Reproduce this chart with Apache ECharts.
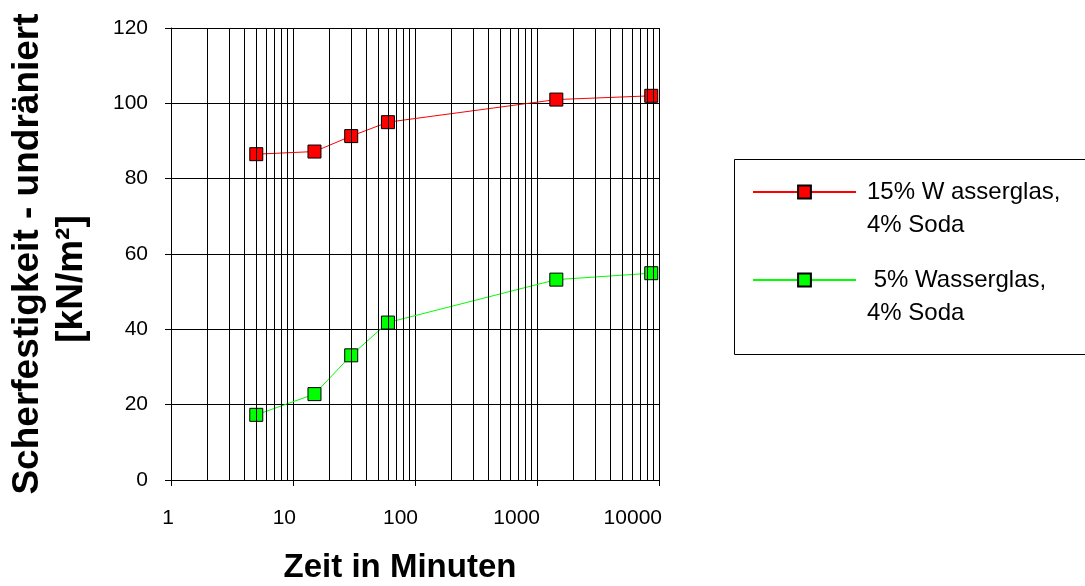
<!DOCTYPE html>
<html>
<head>
<meta charset="utf-8">
<script src="https://cdn.jsdelivr.net/npm/echarts@6/dist/echarts.min.js"></script>
<style>
html,body{margin:0;padding:0;background:#fff;}
#chart{width:1085px;height:586px;}
</style>
</head>
<body>
<div id="chart"></div>
<script>
// ---- data ----
const timeMinutes = [5, 15, 30, 60, 1440, 8640];
const series15Name = '15% Wasserglas';
const series15Values = [86.5, 87.2, 91.3, 95.0, 101.0, 102.0];
const series5Name = '5% Wasserglas';
const series5Values = [17.3, 22.8, 33.1, 41.8, 53.2, 54.9];
const legendLines15 = ['15% W asserglas,', '4% Soda'];
const legendLines5 = [' 5% Wasserglas,', '4% Soda'];
const xTickLabels = ['1', '10', '100', '1000', '10000'];
const yTickLabels = ['0', '20', '40', '60', '80', '100', '120'];
const minorGridX = [2, 3, 4, 5, 6, 7, 8, 9, 20, 30, 40, 50, 60, 70, 80, 90,
  200, 300, 400, 500, 600, 700, 800, 900, 2000, 3000, 4000, 5000, 6000, 7000, 8000, 9000];
const xTitle = 'Zeit in Minuten';
const yTitleLine1 = 'Scherfestigkeit - undräniert';
const yTitleLine2 = '[kN/m²]';

const FONT = '"Liberation Sans", Arial, sans-serif';
const chart = echarts.init(document.getElementById('chart'), null, {renderer: 'canvas'});

function pairs(xs, ys) { return xs.map((x, i) => [x, ys[i]]); }

const legendText = {};
legendText[series15Name] = legendLines15;
legendText[series5Name] = legendLines5;

chart.setOption({
  animation: false,
  backgroundColor: '#fff',
  grid: {left: 171, right: 426, top: 28, bottom: 106, containLabel: false, outerBoundsMode: 'none'},
  xAxis: {
    type: 'log', logBase: 10, min: 1, max: 10000,
    axisLine: {show: true, lineStyle: {color: '#000', width: 1}},
    axisTick: {show: true, length: 6, lineStyle: {color: '#000'}},
    splitLine: {show: true, lineStyle: {color: '#000', width: 1}},
    axisLabel: {
      color: '#000', fontSize: 21, fontFamily: FONT, margin: 28,
      align: 'right', padding: [0, -3, 0, 0],
      formatter: v => xTickLabels[Math.round(Math.log10(v))]
    },
    name: '{t|' + xTitle + '}',
    nameLocation: 'middle', nameGap: 71,
    nameTextStyle: {
      rich: {t: {fontSize: 33, fontWeight: 'bold', fontFamily: FONT, color: '#000', padding: [0, 30, 0, 0]}}
    }
  },
  yAxis: {
    type: 'value', min: 0, max: 120, interval: 20,
    axisLine: {show: true, lineStyle: {color: '#000', width: 1}},
    axisTick: {show: true, length: 6, lineStyle: {color: '#000'}},
    splitLine: {show: true, lineStyle: {color: '#000', width: 1}},
    axisLabel: {
      color: '#000', fontSize: 21, fontFamily: FONT, margin: 23,
      formatter: v => yTickLabels[Math.round(v / 20)]
    },
    name: '{a|' + yTitleLine1 + '}\n{b|' + yTitleLine2 + '}',
    nameLocation: 'middle', nameGap: 77,
    nameTextStyle: {
      rich: {
        a: {fontSize: 37, fontWeight: 'bold', fontFamily: FONT, color: '#000', lineHeight: 44},
        b: {fontSize: 37, fontWeight: 'bold', fontFamily: FONT, color: '#000', lineHeight: 44, padding: [0, 50, 0, 0]}
      }
    }
  },
  legend: {
    orient: 'vertical', left: 752, top: 142.5, padding: 0,
    itemWidth: 103, itemHeight: 16, itemGap: -11,
    data: [series15Name, series5Name],
    formatter: name => '{e| }\n{a|' + legendText[name][0] + '}\n{a|' + legendText[name][1] + '}',
    textStyle: {
      color: '#000',
      rich: {
        e: {height: 33, lineHeight: 33, fontSize: 24, fontFamily: FONT},
        a: {height: 33, lineHeight: 33, fontSize: 24, fontFamily: FONT, color: '#000', padding: [0, 0, 0, 6]}
      }
    }
  },
  graphic: [{
    type: 'rect', left: 732, top: 157, silent: true,
    shape: {width: 400, height: 195},
    style: {fill: 'none', stroke: '#000', lineWidth: 1}
  }],
  series: [
    {
      name: 'grid', type: 'line', data: [], silent: true, z: 1,
      markLine: {
        silent: true, symbol: ['none', 'none'], animation: false,
        label: {show: false},
        lineStyle: {color: '#000', width: 1, type: 'solid'},
        emphasis: {disabled: true},
        data: minorGridX.map(v => ({xAxis: v}))
      }
    },
    {
      name: series15Name, type: 'line', z: 3,
      data: pairs(timeMinutes, series15Values),
      symbol: 'rect', symbolSize: 13,
      itemStyle: {color: '#ff0000', borderColor: '#000', borderWidth: 1},
      lineStyle: {color: '#ff0000', width: 1}
    },
    {
      name: series5Name, type: 'line', z: 3,
      data: pairs(timeMinutes, series5Values),
      symbol: 'rect', symbolSize: 13,
      itemStyle: {color: '#00ff00', borderColor: '#000', borderWidth: 1},
      lineStyle: {color: '#00ff00', width: 1}
    }
  ]
});
</script>
</body>
</html>
